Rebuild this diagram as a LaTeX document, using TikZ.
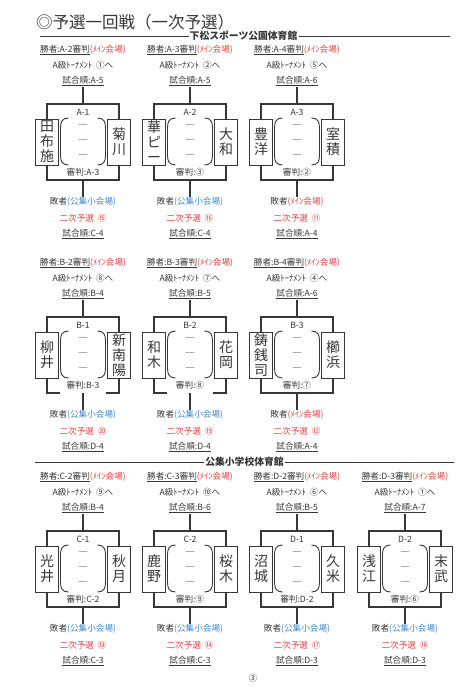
\documentclass[tikz,border=0pt]{standalone}
\usepackage{fontspec}
\setmainfont{Noto Sans CJK JP}
\definecolor{ink}{RGB}{55,55,55}
\definecolor{myred}{RGB}{232,66,66}
\definecolor{myblue}{RGB}{66,138,205}
\begin{document}
\begin{tikzpicture}[x=1pt,y=-1pt,
  lbl/.style={inner sep=0.6pt,text=ink,font=\fontsize{8.6pt}{9pt}\selectfont},
  namebox/.style={draw=ink,line width=1pt,fill=white,minimum width=23pt,minimum height=46pt,inner sep=0pt,align=center,text=ink,font=\fontsize{14pt}{15pt}\selectfont},
  dashmark/.style={inner sep=0pt,text=ink,font=\fontsize{10pt}{10pt}\selectfont},
  frame/.style={draw=ink,line width=1.1pt},
  paren/.style={draw=ink,line width=0.9pt},
  hdr/.style={inner sep=1pt,text=ink,font=\fontsize{9.8pt}{11pt}\selectfont\bfseries},
  rule/.style={draw=ink,line width=0.9pt}]
\fill[white] (0,0) rectangle (474,699);
\useasboundingbox (0,0) rectangle (474,699);

% title and venue headers
\node[anchor=west,inner sep=0pt,text=ink,font=\fontsize{16.5pt}{18pt}\selectfont] (title) at (36,22) {◎予選一回戦（一次予選）};
\node[hdr] (h1) at (243.5,36) {下松スポーツ公園体育館};
\coordinate (h1l) at (40,36); \coordinate (h1r) at (450,36);
\draw[rule] (h1l) -- (h1.west); \draw[rule] (h1.east) -- (h1r);
\node[hdr] (h2) at (244.5,462) {公集小学校体育館};
\coordinate (h2l) at (35,462); \coordinate (h2r) at (454,462);
\draw[rule] (h2l) -- (h2.west); \draw[rule] (h2.east) -- (h2r);
\node[lbl] (pg) at (253,678) {③};

\foreach \id/\cx/\ty/\win/\atgt/\otop/\mtch/\lnm/\rnm/\rf/\lcol/\lv/\snum/\ob/\gp in {
 a1/83/104/A-2/①/A-5/A-1/田\\布\\施/菊\\川/A-3/myblue/公集小会場/⑮/C-4/0,
 a2/190/104/A-3/②/A-5/A-2/華\\ピ\\ー/大\\和/③/myblue/公集小会場/⑯/C-4/0,
 a3/297/104/A-4/⑤/A-6/A-3/豊\\洋/室\\積/②/myred/ﾒｲﾝ会場/⑪/A-4/0,
 b1/83/317/B-2/⑧/B-4/B-1/柳\\井/新\\南\\陽/B-3/myblue/公集小会場/⑳/D-4/1,
 b2/190/317/B-3/⑦/B-5/B-2/和\\木/花\\岡/⑧/myblue/公集小会場/⑲/D-4/1,
 b3/297/317/B-4/④/A-6/B-3/鋳\\銭\\司/櫛\\浜/⑦/myred/ﾒｲﾝ会場/⑫/A-4/0,
 c1/83/531/C-2/⑨/B-4/C-1/光\\井/秋\\月/C-2/myblue/公集小会場/⑬/C-3/0,
 c2/190/531/C-3/⑩/B-6/C-2/鹿\\野/桜\\木/⑨/myblue/公集小会場/⑭/C-3/0,
 d1/297/531/D-2/⑥/B-5/D-1/沼\\城/久\\米/D-2/myblue/公集小会場/⑰/D-3/0,
 d2/405/531/D-3/①/A-7/D-2/浅\\江/末\\武/⑥/myblue/公集小会場/⑱/D-3/0}{
  % labels above
  \node[lbl] (\id-win) at (\cx,{\ty-54}) {\underline{勝者:\win 審判}\textcolor{myred}{(ﾒｲﾝ会場)}};
  \node[lbl] (\id-ato) at (\cx,{\ty-39}) {A級ﾄｰﾅﾒﾝﾄ\ \ \atgt へ};
  \node[lbl] (\id-otop) at (\cx,{\ty-23}) {\underline{試合順:\otop}};
  \coordinate (\id-top) at (\cx,\ty);
  \coordinate (\id-bot) at (\cx,{\ty+76});
  % bracket frame
  \ifnum\gp=1
    \draw[frame] ({\cx-23},{\ty+76}) -- ({\cx-36},{\ty+76}) -- ({\cx-36},\ty) -- ({\cx+36},\ty) -- ({\cx+36},{\ty+76}) -- ({\cx+23},{\ty+76});
  \else
    \draw[frame] ({\cx-36},\ty) rectangle ({\cx+36},{\ty+76});
  \fi
  % name boxes
  \node[namebox] (\id-l) at ({\cx-36},{\ty+38}) {\lnm};
  \node[namebox] (\id-r) at ({\cx+36},{\ty+38}) {\rnm};
  % parentheses
  \draw[paren] ({\cx-14.5},{\ty+14}) .. controls ({\cx-21},{\ty+14}) and ({\cx-22.5},{\ty+18}) .. ({\cx-22.5},{\ty+24}) -- ({\cx-22.5},{\ty+51}) .. controls ({\cx-22.5},{\ty+57}) and ({\cx-21},{\ty+61}) .. ({\cx-14.5},{\ty+61});
  \draw[paren] ({\cx+14.5},{\ty+14}) .. controls ({\cx+21},{\ty+14}) and ({\cx+22.5},{\ty+18}) .. ({\cx+22.5},{\ty+24}) -- ({\cx+22.5},{\ty+51}) .. controls ({\cx+22.5},{\ty+57}) and ({\cx+21},{\ty+61}) .. ({\cx+14.5},{\ty+61});
  % inner texts
  \node[lbl] (\id-m) at (\cx,{\ty+8}) {\mtch};
  \node[dashmark] (\id-d1) at (\cx,{\ty+22}) {―};
  \node[dashmark] (\id-d2) at (\cx,{\ty+37}) {―};
  \node[dashmark] (\id-d3) at (\cx,{\ty+52}) {―};
  \node[lbl] (\id-ref) at (\cx,{\ty+68.5}) {審判:\rf};
  % labels below
  \node[lbl] (\id-lose) at (\cx,{\ty+98}) {敗者\textcolor{\lcol}{(\lv)}};
  \node[lbl,text=myred] (\id-sec) at (\cx,{\ty+114}) {二次予選\ \ \snum};
  \node[lbl] (\id-obot) at (\cx,{\ty+130}) {\underline{試合順:\ob}};
  % connectors
  \draw[frame] (\id-otop.south) -- (\id-top);
  \draw[frame] (\id-bot) -- (\id-lose.north);
}
\end{tikzpicture}
\end{document}
